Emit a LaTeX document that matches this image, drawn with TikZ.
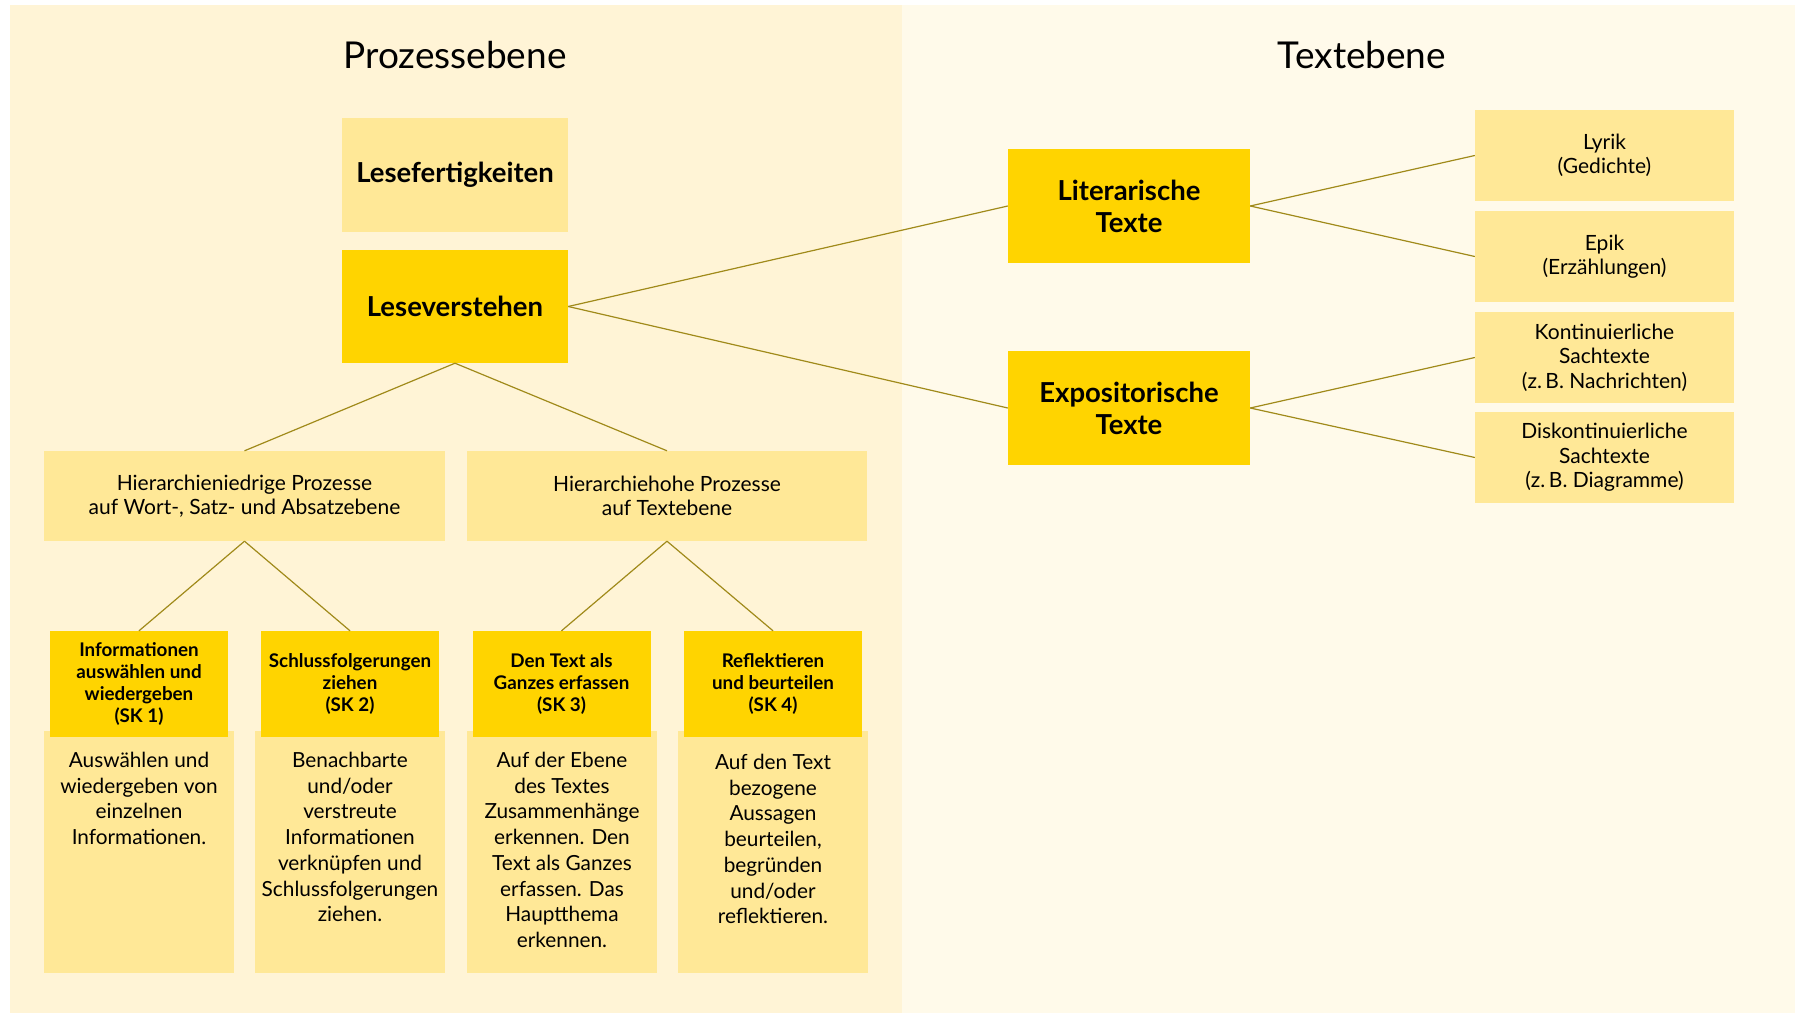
\documentclass[tikz,border=0pt]{standalone}
\usepackage{fontspec}
\setmainfont{Lato}
\definecolor{brightY}{HTML}{FFD400}
\definecolor{lightY}{HTML}{FFE897}
\definecolor{bgLeft}{HTML}{FFF4D6}
\definecolor{bgRight}{HTML}{FFFAEA}
\definecolor{conn}{HTML}{A08A1A}
\tikzset{
  mainbox/.style={fill=brightY, inner sep=0pt, align=center, font=\fontsize{27.5}{32}\selectfont\bfseries},
  skillbox/.style={fill=brightY, inner sep=0pt, align=center, minimum width=178pt, minimum height=106pt, font=\fontsize{18.8}{22}\selectfont\bfseries},
  lightbox/.style={fill=lightY, inner sep=0pt, align=center, font=\fontsize{21}{24.5}\selectfont},
  descbox/.style={fill=lightY, inner sep=0pt, minimum width=190pt, minimum height=242pt},
  desctext/.style={inner sep=0pt, align=center, anchor=north, font=\fontsize{20.8}{25.7}\selectfont},
  titletext/.style={inner sep=0pt, font=\fontsize{37}{42}\selectfont},
  link/.style={draw=conn, line width=1.2pt}
}
\begin{document}
\begin{tikzpicture}[x=1pt, y=-1pt]
\useasboundingbox (0,0) rectangle (1795,1014);
\fill[white] (0,0) rectangle (1795,1014);
\fill[bgLeft] (10,5) rectangle (902,1013);
\fill[bgRight] (902,5) rectangle (1795,1013);

\node[titletext] (tproz) at (455,55) {Prozessebene};
\node[titletext] (ttext) at (1362,55) {Textebene};

\node[mainbox, fill=lightY, minimum width=226pt, minimum height=114pt] (lesef) at (455,175) {Lesefertigkeiten};
\node[mainbox, minimum width=226pt, minimum height=113pt] (lesev) at (455,306.5) {Leseverstehen};

\node[lightbox, minimum width=401pt, minimum height=90pt] (hnied) at (244.5,496) {Hierarchieniedrige Prozesse\\auf Wort-, Satz- und Absatzebene};
\node[lightbox, minimum width=400pt, minimum height=90pt] (hhoch) at (667,496) {Hierarchiehohe Prozesse\\auf Textebene};

\node[descbox] (d1) at (139,852) {};
\node[descbox] (d2) at (350,852) {};
\node[descbox] (d3) at (562,852) {};
\node[descbox] (d4) at (773,852) {};

\node[skillbox] (sk1) at (139,684) {Informationen\\auswählen und\\wiedergeben\\(SK 1)};
\node[skillbox] (sk2) at (350,684) {Schlussfolgerungen\\ziehen\\(SK 2)};
\node[skillbox] (sk3) at (561.5,684) {Den Text als\\Ganzes erfassen\\(SK 3)};
\node[skillbox] (sk4) at (773,684) {Reflektieren\\und beurteilen\\(SK 4)};

\node[desctext] (d1t) at (139,752) {Auswählen und\\wiedergeben von\\einzelnen\\Informationen.};
\node[desctext] (d2t) at (350,752) {Benachbarte\\und/oder\\verstreute\\Informationen\\verknüpfen und\\Schlussfolgerungen\\ziehen.};
\node[desctext] (d3t) at (562,752) {Auf der Ebene\\des Textes\\Zusammenhänge\\erkennen. Den\\Text als Ganzes\\erfassen. Das\\Hauptthema\\erkennen.};
\node[desctext] (d4t) at (773,754) {Auf den Text\\bezogene\\Aussagen\\beurteilen,\\begründen\\und/oder\\reflektieren.};

\node[mainbox, minimum width=242pt, minimum height=114pt] (lit) at (1129,206) {Literarische\\Texte};
\node[mainbox, minimum width=242pt, minimum height=114pt] (exp) at (1129,408) {Expositorische\\Texte};

\node[lightbox, minimum width=259pt, minimum height=91pt] (lyr) at (1604.5,155.5) {Lyrik\\(Gedichte)};
\node[lightbox, minimum width=259pt, minimum height=91pt] (epi) at (1604.5,256.5) {Epik\\(Erzählungen)};
\node[lightbox, minimum width=259pt, minimum height=91pt] (kon) at (1604.5,357.5) {Kontinuierliche\\Sachtexte\\(z.\,B. Nachrichten)};
\node[lightbox, minimum width=259pt, minimum height=91pt] (dis) at (1604.5,457.5) {Diskontinuierliche\\Sachtexte\\(z.\,B. Diagramme)};

\draw[link] (lesev.south) -- (hnied.north);
\draw[link] (lesev.south) -- (hhoch.north);
\draw[link] (hnied.south) -- (sk1.north);
\draw[link] (hnied.south) -- (sk2.north);
\draw[link] (hhoch.south) -- (sk3.north);
\draw[link] (hhoch.south) -- (sk4.north);
\draw[link] (lesev.east) -- (lit.west);
\draw[link] (lesev.east) -- (exp.west);
\draw[link] (lit.east) -- (lyr.west);
\draw[link] (lit.east) -- (epi.west);
\draw[link] (exp.east) -- (kon.west);
\draw[link] (exp.east) -- (dis.west);
\end{tikzpicture}
\end{document}
